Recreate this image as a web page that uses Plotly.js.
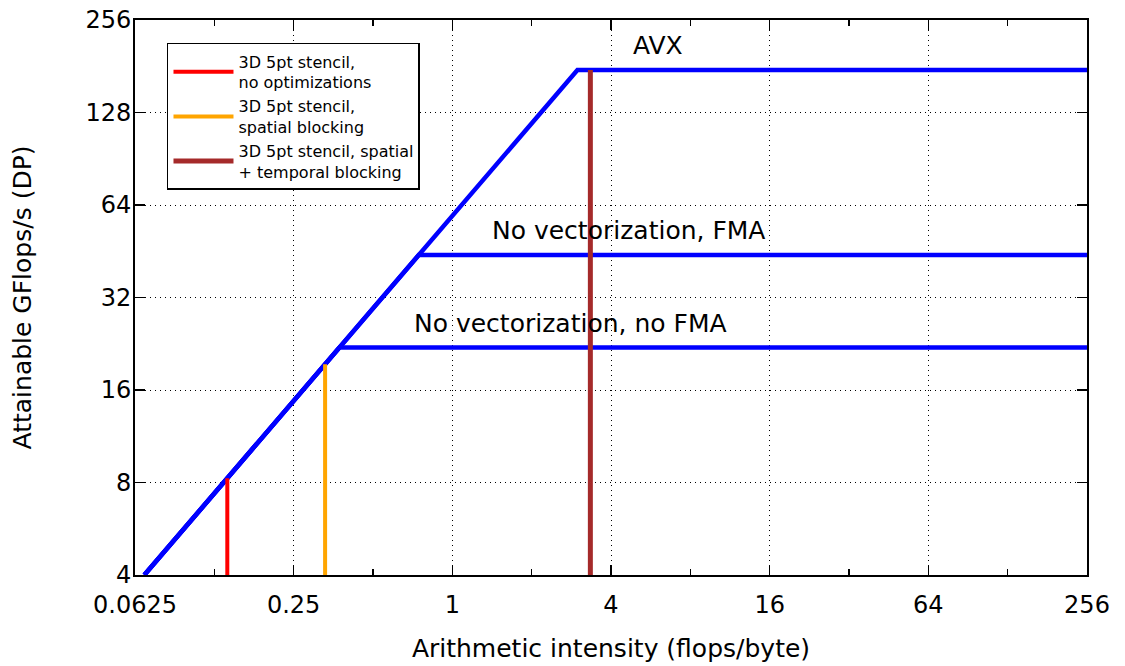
<!DOCTYPE html>
<html>
<head>
<meta charset="utf-8">
<script src="https://cdn.plot.ly/plotly-3.0.1.min.js"></script>
<style>html,body{margin:0;padding:0;background:#fff;}</style>
</head>
<body>
<div id="chart" style="width:1125px;height:666px;"></div>
<script>
// Machine model: memory bandwidth (GB/s) and compute ceilings (GFlops/s, DP)
const memBandwidth = 59;
const ceilingNames = ['AVX', 'No vectorization, FMA', 'No vectorization, no FMA'];
const ceilingPeaks = [176, 44, 22];
const ceilingLabelX = [4.75, 1.39, 0.70];
const ceilingLabelY = [212, 53, 26.4];

// Stencil variants: arithmetic intensity (flops/byte) and attained GFlops/s
const kernelNames = [
  '3D 5pt stencil,<br>no optimizations',
  '3D 5pt stencil,<br>spatial blocking',
  '3D 5pt stencil, spatial<br>+ temporal blocking'
];
const kernelIntensity = [0.14, 0.329, 3.34];
const kernelGflops = [8.26, 19.4, 176];
const kernelColors = ['#ff0000', '#ffa500', '#a52a2a'];

// Axes
const xMin = 0.0625, xMax = 256, yMin = 4, yMax = 256;
const xTickVals = [0.0625, 0.25, 1, 4, 16, 64, 256];
const xTickText = ['0.0625', '0.25', '1', '4', '16', '64', '256'];
const xMinorVals = [0.125, 0.5, 2, 8, 32, 128];
const yTickVals = [4, 8, 16, 32, 64, 128, 256];
const yTickText = ['4', '8', '16', '32', '64', '128', '256'];

const FONT = 'DejaVu Sans, sans-serif';
const traces = [];

// Roofline for each compute ceiling: bandwidth slope, then flat peak
ceilingPeaks.forEach((peak, i) => {
  traces.push({
    type: 'scatter', mode: 'lines',
    name: ceilingNames[i],
    x: [yMin / memBandwidth, peak / memBandwidth, xMax],
    y: [yMin, peak, peak],
    line: { color: '#0000ff', width: 4.5 },
    showlegend: false, hoverinfo: 'skip'
  });
});

// Vertical bars at each kernel's arithmetic intensity
kernelNames.forEach((name, i) => {
  traces.push({
    type: 'scatter', mode: 'lines',
    name: name,
    x: [kernelIntensity[i], kernelIntensity[i]],
    y: [yMin, kernelGflops[i]],
    line: { color: kernelColors[i], width: i === 2 ? 5 : 4 }
  });
});

const annotations = ceilingNames.map((txt, i) => ({
  text: txt,
  x: Math.log10(ceilingLabelX[i]), y: Math.log10(ceilingLabelY[i]),
  xref: 'x', yref: 'y', xanchor: 'left', yanchor: 'middle',
  showarrow: false,
  font: { family: FONT, size: 25, color: '#000' }
}));

const axisCommon = {
  type: 'log',
  tickmode: 'array',
  ticks: 'inside', ticklen: 10, tickwidth: 1.5, tickcolor: '#000',
  showline: true, linecolor: '#000', linewidth: 2, mirror: 'allticks',
  showgrid: true, gridcolor: '#000', gridwidth: 1, griddash: '1px,4px',
  tickfont: { family: FONT, size: 24, color: '#000' },
  zeroline: false, fixedrange: true
};

const layout = {
  width: 1125, height: 666,
  margin: { l: 135, r: 38, t: 20, b: 91 },
  paper_bgcolor: '#fff', plot_bgcolor: '#fff',
  font: { family: FONT, color: '#000' },
  showlegend: true,
  legend: {
    x: 0.0336, y: 0.9586, xanchor: 'left', yanchor: 'top',
    bgcolor: '#fff', bordercolor: '#000', borderwidth: 1.5,
    font: { family: FONT, size: 16, color: '#000' },
    itemwidth: 60, tracegroupgap: 0
  },
  xaxis: Object.assign({}, axisCommon, {
    range: [Math.log10(xMin), Math.log10(xMax)],
    tickvals: xTickVals, ticktext: xTickText,
    ticklabelstandoff: 7,
    minor: { tickvals: xMinorVals, ticks: 'inside', ticklen: 6, tickwidth: 1.5, tickcolor: '#000', showgrid: false },
    title: { text: 'Arithmetic intensity (flops/byte)', font: { family: FONT, size: 25, color: '#000' }, standoff: 22 }
  }),
  yaxis: Object.assign({}, axisCommon, {
    range: [Math.log10(yMin), Math.log10(yMax)],
    tickvals: yTickVals, ticktext: yTickText,
    ticklabelstandoff: -3,
    title: { text: 'Attainable GFlops/s (DP)', font: { family: FONT, size: 25, color: '#000' }, standoff: 47 }
  }),
  annotations: annotations
};

Plotly.newPlot('chart', traces, layout, { displayModeBar: false, staticPlot: true });
</script>
</body>
</html>
